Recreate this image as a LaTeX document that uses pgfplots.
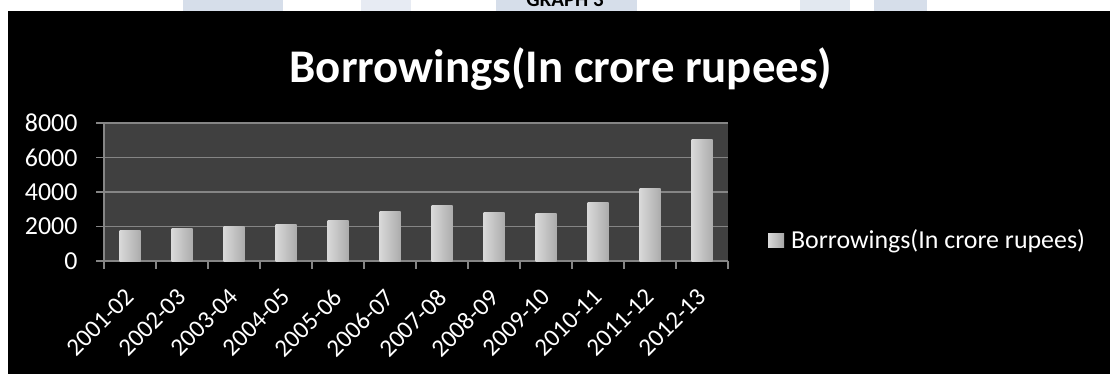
\documentclass[border=0pt]{standalone}
\usepackage{pgfplots}
\pgfplotsset{compat=1.18}
\usepackage{fontspec}
\setmainfont{Carlito}
\definecolor{plotbg}{HTML}{404040}
\definecolor{gridc}{HTML}{858585}
\definecolor{deco}{HTML}{D6DEEA}
\pgfplotsset{mybar/.style={draw=none, bar shift=0pt, left color=gray!30!white, middle color=white, right color=gray!65!white}}
\begin{document}
\begin{tikzpicture}[x=1bp,y=1bp]
\useasboundingbox (0,0) rectangle (1110,374);
\fill[white] (0,0) rectangle (1110,374);
\fill[deco] (183,362) rectangle (283,374);
\fill[deco!60] (361,362) rectangle (411,374);
\fill[deco] (496,362) rectangle (637,374);
\fill[deco!70] (800,362) rectangle (850,374);
\fill[deco] (874,362) rectangle (927,374);
\node[font=\bfseries\fontsize{21}{21}\selectfont, anchor=base, inner sep=0pt] at (565,368) {GRAPH 3};
\fill[black] (8,0) rectangle (1110,363);
\node[white, font=\bfseries\fontsize{47}{47}\selectfont, anchor=base, inner sep=0pt] at (561,292) {Borrowings(In crore rupees)};
\begin{axis}[
  at={(104bp,113bp)}, anchor=south west,
  scale only axis, width=624bp, height=138bp,
  xmin=-0.5, xmax=11.5, ymin=0, ymax=8000,
  axis background/.style={fill=plotbg},
  axis x line*=bottom, axis y line*=left,
  axis line style={gridc, line width=1.3bp, -},
  ytick={0,2000,4000,6000,8000},
  ymajorgrids, grid style={gridc, line width=1.3bp},
  xtick={-0.5,0.5,...,11.5}, xticklabels={},
  extra x ticks={0,1,...,11},
  extra x tick labels={2001-02,2002-03,2003-04,2004-05,2005-06,2006-07,2007-08,2008-09,2009-10,2010-11,2011-12,2012-13},
  extra x tick style={major tick length=0pt, grid=none},
  tick align=outside, major tick length=8bp,
  tick style={gridc, line width=1.3bp},
  /pgf/number format/assume math mode=true,
  /pgf/number format/1000 sep={},
  ticklabel style={text=white, font=\fontsize{26}{26}\selectfont},
  xticklabel style={yshift=-26bp, xshift=-6bp, rotate=45, anchor=north east, inner sep=0pt, font=\fontsize{25}{25}\selectfont},
  yticklabel style={xshift=-15bp},
  ybar, bar width=21bp,
  legend style={at={(1.064,0.152)}, anchor=west, draw=none, fill=none,
    text=white, font=\fontsize{26}{26}\selectfont, inner sep=0pt},
  legend image code/.code={\path[left color=gray!30!white, right color=gray!70!white] (0bp,-7bp) rectangle (16bp,7bp); \path (21bp,0bp);},
]
\addplot[mybar] coordinates {(0,1740)};
\addlegendentry{Borrowings(In crore rupees)}
\addplot[mybar, forget plot] coordinates {(1,1875)};
\addplot[mybar, forget plot] coordinates {(2,1990)};
\addplot[mybar, forget plot] coordinates {(3,2105)};
\addplot[mybar, forget plot] coordinates {(4,2340)};
\addplot[mybar, forget plot] coordinates {(5,2860)};
\addplot[mybar, forget plot] coordinates {(6,3190)};
\addplot[mybar, forget plot] coordinates {(7,2840)};
\addplot[mybar, forget plot] coordinates {(8,2725)};
\addplot[mybar, forget plot] coordinates {(9,3420)};
\addplot[mybar, forget plot] coordinates {(10,4230)};
\addplot[mybar, forget plot] coordinates {(11,7015)};
\end{axis}
\end{tikzpicture}
\end{document}
